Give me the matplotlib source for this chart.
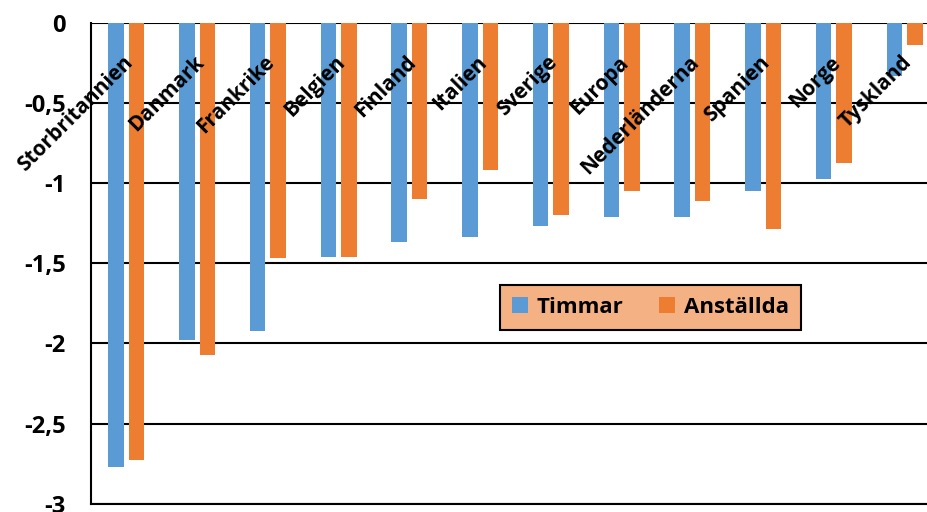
import numpy as np
import matplotlib.pyplot as plt
from matplotlib.ticker import FuncFormatter

plt.rcParams['font.family'] = ['Open Sans', 'DejaVu Sans']
plt.rcParams['font.weight'] = 'bold'

lander = ['Storbritannien', 'Danmark', 'Frankrike', 'Belgien', 'Finland', 'Italien',
          'Sverige', 'Europa', 'Nederländerna', 'Spanien', 'Norge', 'Tyskland']
timmar = [-2.77, -1.98, -1.92, -1.46, -1.37, -1.34, -1.27, -1.21, -1.21, -1.05, -0.975, -0.335]
anstallda = [-2.73, -2.07, -1.47, -1.46, -1.10, -0.92, -1.20, -1.05, -1.11, -1.29, -0.875, -0.14]

blue = '#5B9BD5'
orange = '#ED7D31'

fig = plt.figure(figsize=(9.28, 5.12), dpi=100)
# plot area runs slightly past the right edge of the image, as in the original
ax = fig.add_axes([0.098, 0.016, 0.915, 0.940])

x = np.arange(len(lander))
w = 0.22
ax.bar(x - 0.145, timmar, w, color=blue, label='Timmar', zorder=3)
ax.bar(x + 0.145, anstallda, w, color=orange, label='Anställda', zorder=3)

ax.set_xlim(-0.5, len(lander) - 0.5)
ax.set_ylim(-3, 0)
ax.set_yticks(np.arange(-3, 0.01, 0.5))
ax.yaxis.set_major_formatter(FuncFormatter(lambda v, p: ('%g' % v).replace('.', ',')))
ax.tick_params(axis='y', length=0, pad=18, labelsize=17)
ax.set_xticks([])
ax.grid(axis='y', color='black', lw=1.5, zorder=1)

for s in ['top', 'right']:
    ax.spines[s].set_visible(False)
ax.spines['left'].set_linewidth(1.5)
ax.spines['bottom'].set_linewidth(1.5)

for i, name in enumerate(lander):
    ax.text(i + 0.05, -0.23, name, rotation=45, ha='right', va='center',
            rotation_mode='anchor', fontsize=15, fontweight='bold', zorder=5)

leg = ax.legend(loc='upper left', bbox_to_anchor=(0.482, 0.455), ncol=2, fontsize=16,
                frameon=True, fancybox=False, handlelength=0.7, handleheight=0.7,
                columnspacing=1.6, handletextpad=0.4, borderpad=0.55,
                borderaxespad=0)
leg.get_frame().set_facecolor('#F4B183')
leg.get_frame().set_edgecolor('black')
leg.get_frame().set_linewidth(1.5)
leg.get_frame().set_alpha(1)

fig.savefig('out.png', dpi=100)
